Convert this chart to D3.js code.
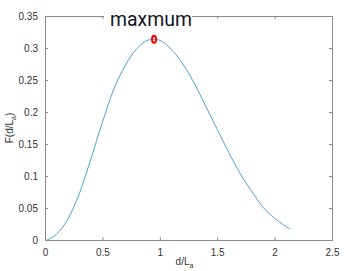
<!DOCTYPE html>
<html>
<head>
<meta charset="utf-8">
<style>
body { margin: 0; background: #fff; }
text { font-family: "Liberation Sans", Arial, sans-serif; }
.tick text { fill: #333; font-size: 10px; }
</style>
</head>
<body>
<script src="https://cdn.jsdelivr.net/npm/d3@7"></script>
<script>

// values
var ratio = [0.015, 0.1, 0.2, 0.3, 0.4, 0.5, 0.6, 0.7, 0.8, 0.9, 0.95, 1.0, 1.1, 1.2, 1.3, 1.4, 1.5, 1.6, 1.7, 1.8, 1.9, 2.0, 2.134];
var force = [0, 0.009, 0.033, 0.073, 0.127, 0.184, 0.236, 0.273, 0.299, 0.3125, 0.3136, 0.312, 0.298, 0.275, 0.245, 0.209, 0.173, 0.137, 0.104, 0.076, 0.051, 0.034, 0.017];
var maxPoint = [0.95, 0.3136];
var xTicks = [0, 0.5, 1, 1.5, 2, 2.5];
var yTicks = [0, 0.05, 0.1, 0.15, 0.2, 0.25, 0.3, 0.35];

var width = 351, height = 271;
var mLeft = 45, mRight = 332, mTop = 16, mBottom = 240;

var svg = d3.select("body").append("svg")
    .attr("width", width)
    .attr("height", height);

var x = d3.scaleLinear().domain([0, 2.5]).range([mLeft, mRight]);
var y = d3.scaleLinear().domain([0, 0.35]).range([mBottom, mTop]);

// box
svg.append("rect")
    .attr("x", mLeft + 0.5).attr("y", mTop + 0.5)
    .attr("width", mRight - mLeft).attr("height", mBottom - mTop)
    .attr("fill", "none")
    .attr("stroke", "#8c8c8c")
    .attr("stroke-width", 1);

function styleAxis(g) {
  g.select(".domain").remove();
  g.selectAll(".tick line").attr("stroke", "#8c8c8c");
}

svg.append("g")
    .attr("transform", "translate(0," + mBottom + ")")
    .call(d3.axisBottom(x).tickValues(xTicks).tickSizeInner(-3).tickSizeOuter(0).tickPadding(9).tickFormat(d3.format("")))
    .call(styleAxis);

svg.append("g")
    .attr("transform", "translate(0," + mTop + ")")
    .call(d3.axisTop(x).tickValues(xTicks).tickSizeInner(-3).tickSizeOuter(0).tickFormat(""))
    .call(styleAxis);

svg.append("g")
    .attr("transform", "translate(" + mLeft + ",0)")
    .call(d3.axisLeft(y).tickValues(yTicks).tickSizeInner(-3).tickSizeOuter(0).tickPadding(7).tickFormat(d3.format("")))
    .call(styleAxis);

svg.append("g")
    .attr("transform", "translate(" + mRight + ",0)")
    .call(d3.axisRight(y).tickValues(yTicks).tickSizeInner(-3).tickSizeOuter(0).tickFormat(""))
    .call(styleAxis);

svg.selectAll(".tick text").attr("font-family", null);

// curve
var pts = ratio.map(function(d, i) { return [d, force[i]]; });
var line = d3.line()
    .x(function(d) { return x(d[0]); })
    .y(function(d) { return y(d[1]); })
    .curve(d3.curveMonotoneX);

svg.append("path")
    .datum(pts)
    .attr("d", line)
    .attr("fill", "none")
    .attr("stroke", "#4f9fd9")
    .attr("stroke-width", 1);

// max marker
svg.append("ellipse")
    .attr("cx", x(maxPoint[0]))
    .attr("cy", y(maxPoint[1]))
    .attr("rx", 2)
    .attr("ry", 3.5)
    .attr("fill", "none")
    .attr("stroke", "#ff0000")
    .attr("stroke-width", 2);

// annotation box
svg.append("rect")
    .attr("x", 104).attr("y", 4)
    .attr("width", 88).attr("height", 24)
    .attr("fill", "#fff");

svg.append("text")
    .attr("x", 110).attr("y", 26)
    .attr("textLength", 82)
    .attr("lengthAdjust", "spacingAndGlyphs")
    .style("font-size", "21px")
    .style("font-family", "Roboto, sans-serif")
    .attr("fill", "#141428")
    .text("maxmum");

// axis labels
var xl = svg.append("text")
    .attr("x", (mLeft + mRight) / 2 - 4)
    .attr("y", 265)
    .attr("text-anchor", "middle")
    .style("font-size", "10px")
    .attr("fill", "#333");
xl.append("tspan").text("d/L");
xl.append("tspan").attr("dy", 3).style("font-size", "7px").text("a");

var yl = svg.append("text")
    .attr("transform", "translate(13," + ((mTop + mBottom) / 2) + ") rotate(-90)")
    .attr("text-anchor", "middle")
    .style("font-size", "10px")
    .attr("fill", "#333");
yl.append("tspan").text("F(d/L");
yl.append("tspan").attr("dy", 3).style("font-size", "7px").text("a");
yl.append("tspan").attr("dy", -3).text(")");

</script>
</body>
</html>
